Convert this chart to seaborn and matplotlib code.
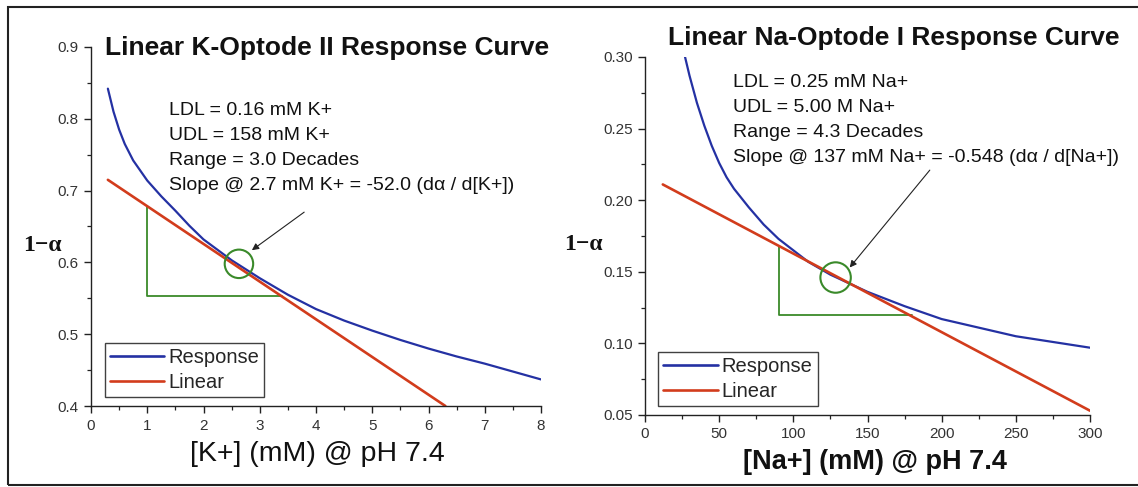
import numpy as np
import pandas as pd
import matplotlib
matplotlib.use("Agg")
import matplotlib.pyplot as plt
from matplotlib.patches import Rectangle
from matplotlib.ticker import MultipleLocator, FormatStrFormatter
import seaborn as sns

# ---------------- data ----------------
k_x = [0.3, 0.4, 0.5, 0.6, 0.75, 1.0, 1.25, 1.5, 1.75, 2.0, 2.5, 3.0, 3.5, 4.0, 4.5, 5.0, 5.5, 6.0, 6.5, 7.0, 7.5, 8.0]
k_resp = [0.842, 0.810, 0.785, 0.765, 0.742, 0.714, 0.692, 0.672, 0.651, 0.632, 0.603, 0.578, 0.555, 0.535, 0.519, 0.505, 0.492, 0.480, 0.469, 0.459, 0.448, 0.437]
k_lin_x = [0.3, 6.3]
k_lin_y = [0.715, 0.400]
k_tri_x = [1.0, 1.0, 3.39]
k_tri_y = [0.678, 0.553, 0.553]
k_circle = (2.63, 0.598)
k_arrow_tail = (3.79, 0.670)
k_arrow_head = (2.86, 0.617)
k_text = ["LDL = 0.16 mM K+", "UDL = 158 mM K+", "Range = 3.0 Decades",
          "Slope @ 2.7 mM K+ = -52.0 (d\u03b1 / d[K+])"]

na_x = [27, 30, 35, 40, 45, 50, 55, 60, 70, 80, 90, 100, 110, 125, 150, 175, 200, 225, 250, 275, 300]
na_resp = [0.300, 0.287, 0.268, 0.252, 0.238, 0.226, 0.216, 0.208, 0.195, 0.183, 0.173, 0.165, 0.157, 0.148, 0.136, 0.126, 0.117, 0.111, 0.105, 0.101, 0.097]
na_lin_x = [12, 300]
na_lin_y = [0.211, 0.053]
na_tri_x = [90, 90, 180]
na_tri_y = [0.168, 0.120, 0.120]
na_circle = (128.5, 0.146)
na_arrow_tail = (192, 0.221)
na_arrow_head = (138, 0.153)
na_text = ["LDL = 0.25 mM Na+", "UDL = 5.00 M Na+", "Range = 4.3 Decades",
           "Slope @ 137 mM Na+ = -0.548 (d\u03b1 / d[Na+])"]

BLUE = "#2431a3"
RED = "#d23c1c"
GREEN = "#3a8a2a"

sns.set_style("ticks")
plt.rcParams['font.family'] = ['Liberation Sans', 'DejaVu Sans']

fig = plt.figure(figsize=(11.38, 4.87), dpi=100)
W, H = 1138, 487

def axes_px(x0, x1, ytop, ybot):
    return fig.add_axes([x0 / W, 1 - ybot / H, (x1 - x0) / W, (ybot - ytop) / H])

axL = axes_px(91, 541, 47, 406)
axR = axes_px(645, 1090, 57, 415)

def style(ax, xlim, ylim, xmaj, xmin, ymaj, ymin, yfmt):
    ax.set_xlim(*xlim)
    ax.set_ylim(*ylim)
    ax.xaxis.set_major_locator(MultipleLocator(xmaj))
    ax.xaxis.set_minor_locator(MultipleLocator(xmin))
    ax.yaxis.set_major_locator(MultipleLocator(ymaj))
    ax.yaxis.set_minor_locator(MultipleLocator(ymin))
    ax.yaxis.set_major_formatter(FormatStrFormatter(yfmt))
    for s in ["top", "right"]:
        ax.spines[s].set_visible(False)
    for s in ["left", "bottom"]:
        ax.spines[s].set_linewidth(1.0)
        ax.spines[s].set_color("#222222")
    ax.tick_params(which="major", length=5, width=1.0, color="#222222",
                   labelsize=11, labelcolor="#333333", pad=4)
    ax.tick_params(which="minor", length=3, width=0.9, color="#222222")
    ax.set_xlabel("")
    ax.set_ylabel("")

def panel(ax, x, resp, lx, ly, tx, ty, circ, tail, head, texts, text_xy, circ_s):
    sns.lineplot(x=x, y=resp, ax=ax, color=BLUE, lw=1.6, label="Response")
    sns.lineplot(x=lx, y=ly, ax=ax, color=RED, lw=1.9, label="Linear")
    ax.plot(tx, ty, color=GREEN, lw=1.3, zorder=1)
    ax.scatter([circ[0]], [circ[1]], s=circ_s, facecolors="none",
               edgecolors=GREEN, linewidths=1.5, zorder=4)
    ax.annotate("", xy=head, xytext=tail,
                arrowprops=dict(arrowstyle="-|>", color="#222222", lw=0.8,
                                mutation_scale=10, shrinkA=0, shrinkB=0))
    ax.text(text_xy[0], text_xy[1], "\n".join(texts), fontsize=14,
            va="top", ha="left", color="#111111", linespacing=1.62)
    leg = ax.legend(loc="lower left", bbox_to_anchor=(0.03, 0.025),
                    borderaxespad=0, fontsize=14.5, frameon=True, fancybox=False,
                    handlelength=2.7, handletextpad=0.2, borderpad=0.25,
                    labelspacing=0.3)
    leg.get_frame().set_edgecolor("#111111")
    leg.get_frame().set_linewidth(1.0)
    for line in leg.get_lines():
        line.set_linewidth(1.9)

panel(axL, k_x, k_resp, k_lin_x, k_lin_y, k_tri_x, k_tri_y, k_circle,
      k_arrow_tail, k_arrow_head, k_text, (1.39, 0.824), 420)
style(axL, (0, 8), (0.4, 0.9), 1, 0.5, 0.1, 0.05, "%.1f")

panel(axR, na_x, na_resp, na_lin_x, na_lin_y, na_tri_x, na_tri_y, na_circle,
      na_arrow_tail, na_arrow_head, na_text, (59, 0.288), 480)
style(axR, (0, 300), (0.05, 0.30), 50, 25, 0.05, 0.025, "%.2f")

# titles
fig.text(105 / W, 1 - 48 / H, "Linear K-Optode II Response Curve", fontsize=19,
         fontweight="bold", ha="left", va="center", color="#111111")
fig.text(668 / W, 1 - 38 / H, "Linear Na-Optode I Response Curve", fontsize=19,
         fontweight="bold", ha="left", va="center", color="#111111")

# axis labels
axL.text(0.502, -0.135, "[K+] (mM) @ pH 7.4", transform=axL.transAxes,
         fontsize=20.5, ha="center", va="center", color="#111111")
axR.text(0.517, -0.13, "[Na+] (mM) @ pH 7.4", transform=axR.transAxes,
         fontsize=19.5, fontweight="bold", ha="center", va="center", color="#111111")
axL.text(-0.107, 0.448, "1\u2212\u03b1", transform=axL.transAxes, fontsize=17,
         fontweight="bold", family=["Liberation Serif", "DejaVu Serif"],
         ha="center", va="center", color="#111111")
axR.text(-0.139, 0.475, "1\u2212\u03b1", transform=axR.transAxes, fontsize=17,
         fontweight="bold", family=["Liberation Serif", "DejaVu Serif"],
         ha="center", va="center", color="#111111")

# outer frame
fig.add_artist(Rectangle((8 / W, 2 / H), 1.2, 1 - 9 / H, transform=fig.transFigure,
                         fill=False, edgecolor="#222222", linewidth=1.5))

fig.savefig("out.png", dpi=100)
